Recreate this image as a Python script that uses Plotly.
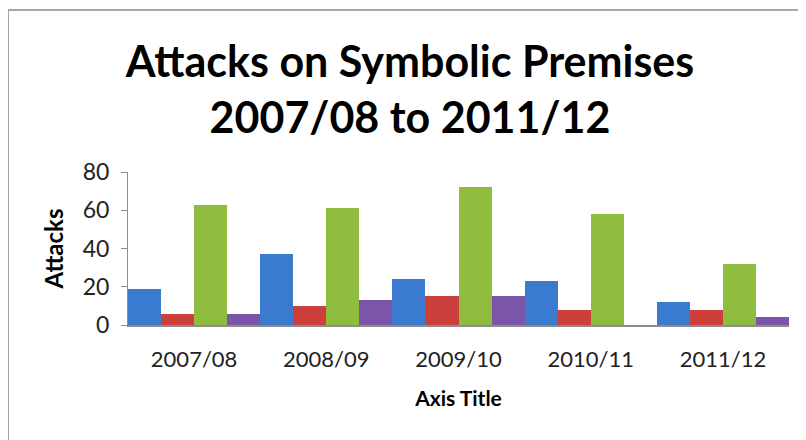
import plotly.graph_objects as go

categories = ["2007/08", "2008/09", "2009/10", "2010/11", "2011/12"]
series_a = [19, 37, 24, 23, 12]
series_b = [6, 10, 15, 8, 8]
series_c = [63, 61, 72, 58, 32]
series_d = [6, 13, 15, None, 4]
y_ticks = [0, 20, 40, 60, 80]

colors = ["#3b7bcf", "#cc3f3b", "#8fbb3f", "#7a55a8"]

fig = go.Figure()
for vals, col in zip([series_a, series_b, series_c, series_d], colors):
    fig.add_trace(go.Bar(x=categories, y=vals, marker=dict(color=col, line=dict(width=0)),
                         showlegend=False))

# page body has an 8px margin, so the figure is 798x432 to fill the 806x440 window
W, H = 798, 432
L, R, T, B = 120, 17, 164, 115
pw = W - L - R
ph = H - T - B

fig.update_layout(
    width=W, height=H,
    margin=dict(l=L, r=R, t=T, b=B),
    paper_bgcolor="white", plot_bgcolor="white",
    barmode="group", bargap=0, bargroupgap=0,
    font=dict(family="Lato", color="#000000"),
    title=dict(text="<b>Attacks on Symbolic Premises<br>2007/08 to 2011/12</b>",
               x=402 / W, xanchor="center", y=1 - 69 / H, yanchor="middle",
               font=dict(size=43, family="Lato", color="#000000")),
    xaxis=dict(showline=True, linecolor="#8c8c8c", linewidth=2, ticks="",
               tickfont=dict(size=22, color="#222222"), ticklabelstandoff=14,
               title=dict(text="<b>Axis Title</b>", font=dict(size=21), standoff=20)),
    yaxis=dict(range=[0, 80], tickvals=y_ticks, showgrid=False, zeroline=False,
               showline=True, linecolor="#8c8c8c", linewidth=1, ticks="outside",
               ticklen=6, tickcolor="#8c8c8c", ticklabelstandoff=7,
               tickfont=dict(size=23, color="#222222"),
               title=dict(text="<b>Attacks</b>", font=dict(size=24), standoff=12)),
    shapes=[dict(type="rect", xref="paper", yref="paper",
                 x0=(0 - L) / pw, x1=(W + 20 - L) / pw,
                 y0=(H - B - (H + 20)) / ph, y1=(H - B - 2) / ph,
                 line=dict(color="#a6a6a6", width=2), fillcolor="rgba(0,0,0,0)", layer="below")],
)

fig.write_html("out.html")
